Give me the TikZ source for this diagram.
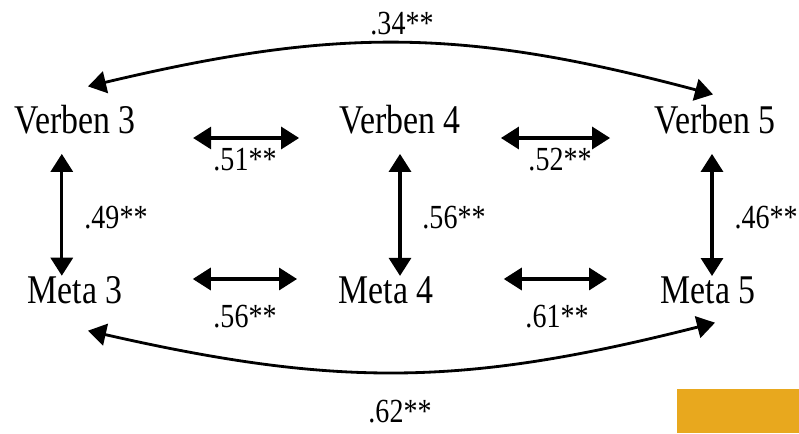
\documentclass[tikz,border=0pt]{standalone}
\usepackage{fontspec}
\setmainfont{Liberation Serif}[FakeStretch=0.83]
\usetikzlibrary{arrows.meta}
\definecolor{gold}{RGB}{232,168,30}
\tikzset{
  var/.style={inner sep=0pt,anchor=base,font=\fontsize{29}{29}\selectfont},
  corr/.style={inner sep=0pt,anchor=base,font=\fontsize{24}{24}\selectfont},
  biarrow/.style={{Triangle[length=0.45cm,width=0.55cm]}-{Triangle[length=0.45cm,width=0.55cm]},line width=2.3pt},
}

\begin{document}
\begin{tikzpicture}[x=0.025cm,y=-0.025cm]
\useasboundingbox (0,0) rectangle (799,433);
\node[var] (v3) at (75,133) {Verben 3}; \node[var] (v4) at (400,133) {Verben 4}; \node[var] (v5) at (715,133) {Verben 5};
\node[var] (m3) at (75,303) {Meta 3}; \node[var] (m4) at (386,303) {Meta 4}; \node[var] (m5) at (708,303) {Meta 5};
\draw[biarrow,shorten <=1.43cm,shorten >=1cm] ([yshift=-0.125cm]v3.base east) -- ([yshift=-0.125cm]v4.base west);
\draw[biarrow,shorten <=1cm,shorten >=1.1cm] ([yshift=-0.125cm]v4.base east) -- ([yshift=-0.125cm]v5.base west);
\draw[biarrow,shorten <=1.75cm,shorten >=1.03cm] ([yshift=0.6cm]m3.base east) -- ([yshift=0.6cm]m4.base west);
\draw[biarrow,shorten <=1.75cm,shorten >=1.33cm] ([yshift=0.6cm]m4.base east) -- ([yshift=0.6cm]m5.base west);
\draw[biarrow,shorten <=0.5cm] ([xshift=-0.33cm]v3.south) -- ([xshift=-0.33cm]m3.north);
\draw[biarrow,shorten <=0.5cm] (v4.south) -- (v4.south |- m4.north);
\draw[biarrow,shorten <=0.5cm] ([xshift=-0.075cm]v5.south) -- ([xshift=-0.075cm]v5.south |- m5.north);
\draw[biarrow,line width=2pt] ([shift={(13,-18)}]v3.north) .. controls (338,27) and (463,28) .. ([shift={(-2,-10)}]v5.north);
\draw[biarrow,line width=2pt] ([shift={(13,27)}]m3.south) .. controls (340,388) and (465,386) .. ([shift={(7,19)}]m5.south);
\node[corr] (c34) at (402,35) {.34**};
\node[corr] (c51) at (245,170) {.51**}; \node[corr] (c52) at (560,170) {.52**};
\node[corr] (c49) at (116,228) {.49**}; \node[corr] (c56a) at (454,228) {.56**}; \node[corr] (c46) at (766,228) {.46**};
\node[corr] (c56b) at (245,327) {.56**}; \node[corr] (c61) at (557,327) {.61**};
\node[corr] (c62) at (400,422) {.62**};
\fill[gold] (677,389) rectangle (799,433);
\end{tikzpicture}
\end{document}
